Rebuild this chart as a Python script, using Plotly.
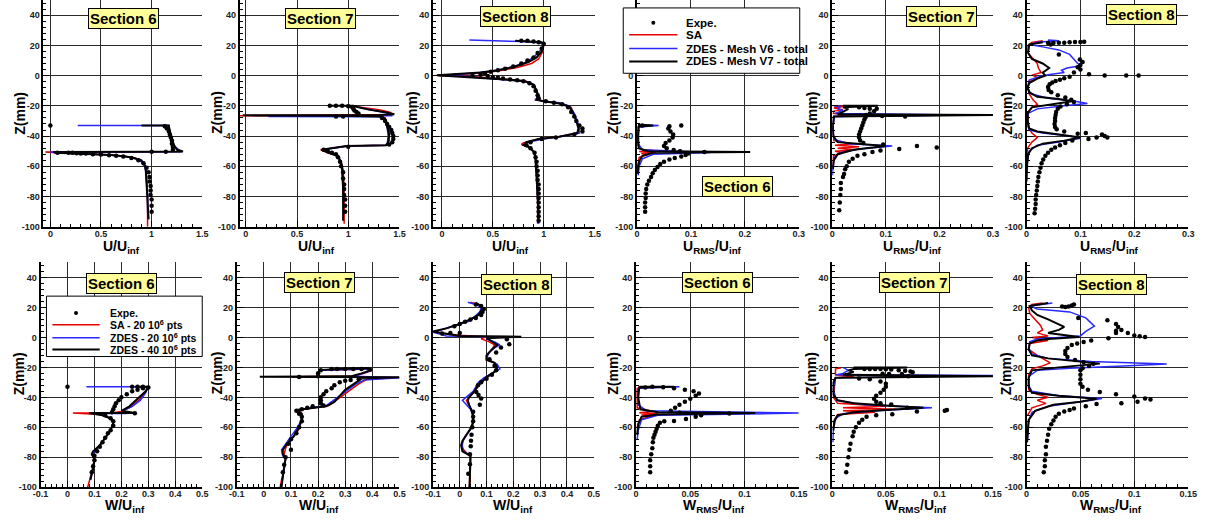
import plotly.graph_objects as go

# ---------------- DATA (x, z) pairs ----------------
# Row 1 : U/Uinf (sections 6,7,8) and URMS/Uinf (sections 6,7,8)
T1_EXP = [(0,-33),(1.13,-33.5),(1.15,-35),(1.17,-37),(1.18,-39),(1.19,-41),(1.2,-43),(1.2,-45),(1.21,-47),(1.21,-49),(1.0,-50.4),(1.14,-50.4),(0.07,-51),(0.18,-51),(0.22,-51),(0.26,-51.3),(0.3,-51.5),(0.35,-51.6),(0.42,-52),(0.5,-52.2),(0.58,-52.6),(0.65,-53),(0.72,-53.5),(0.8,-54.5),(0.87,-56),(0.92,-58),(0.95,-61),(0.97,-64),(0.98,-67),(0.98,-70),(0.99,-73),(0.99,-76),(0.99,-79),(1.0,-82),(1.0,-86),(1.0,-90)]
T1_SA = [(1.12,-33),(1.17,-33.2),(1.18,-37),(1.2,-42),(1.22,-46),(1.26,-49.3),(1.3,-50.2),(1.0,-50.4),(-0.05,-50.5),(0.02,-50.8),(0.2,-51.2),(0.5,-52),(0.7,-53),(0.84,-54.5),(0.91,-57),(0.94,-61),(0.95,-70),(0.96,-80),(0.96,-90),(0.96,-100)]
T1_V6 = [(0.27,-33),(1.17,-33),(1.18,-37),(1.2,-43),(1.23,-47),(1.28,-49.6),(1.28,-50.4),(0.0,-50.6),(0.1,-51),(0.3,-51.5),(0.55,-52.3),(0.75,-53.5),(0.87,-55.5),(0.93,-59),(0.95,-66),(0.96,-78),(0.96,-90),(0.97,-95)]
T1_V7 = [(0.9,-33),(1.17,-33),(1.18,-37),(1.2,-42),(1.22,-46),(1.25,-49),(1.31,-50.2),(1.0,-50.4),(0.03,-50.5),(0.05,-51),(0.3,-51.5),(0.6,-52.5),(0.8,-54),(0.9,-56),(0.94,-60),(0.95,-70),(0.96,-80),(0.97,-90),(0.97,-95)]

T2_EXP = [(0.82,-20),(0.88,-20),(0.94,-20),(1.0,-20.2),(1.04,-21),(1.05,-22),(1.06,-23),(1.08,-24),(1.1,-25),(0.88,-27),(0.95,-27),(1.33,-28),(1.36,-30),(1.38,-32),(1.4,-34),(1.42,-36),(1.43,-38),(1.44,-40),(1.44,-42),(1.43,-44),(1.4,-45.5),(1.0,-47),(0.76,-49),(0.8,-50),(0.84,-51),(0.88,-52),(0.9,-54),(0.92,-57),(0.93,-60),(0.95,-64),(0.95,-68),(0.96,-72),(0.96,-75),(0.96,-79),(0.97,-82),(0.97,-86),(0.97,-90)]
T2_SA = [(1.05,-20.2),(1.15,-21),(1.3,-22.5),(1.4,-24),(1.44,-25.8),(0.5,-26.3),(-0.08,-26.5),(0.07,-26.6),(1.3,-26.8),(1.36,-28),(1.38,-32),(1.4,-38),(1.4,-43),(1.38,-46),(1.0,-46.5),(0.73,-49),(0.8,-51),(0.9,-53),(0.93,-57),(0.95,-62),(0.96,-75),(0.96,-90),(0.96,-98)]
T2_V6 = [(1.1,-21),(1.2,-22.5),(1.3,-23.5),(1.4,-25),(1.43,-26.5),(0.22,-27),(1.3,-27.2),(1.36,-29),(1.38,-34),(1.39,-40),(1.38,-46),(1.0,-46.5),(0.75,-49),(0.82,-51),(0.9,-53),(0.93,-57),(0.94,-62),(0.95,-70),(0.95,-85)]
T2_V7 = [(0.82,-20),(1.05,-20),(1.1,-21),(1.2,-22.5),(1.35,-24),(1.45,-25.5),(1.3,-26),(-0.03,-26.3),(0.9,-26.6),(1.3,-27),(1.36,-28.5),(1.38,-33),(1.4,-39),(1.39,-44),(1.37,-46),(0.98,-46.6),(0.74,-49),(0.81,-51),(0.89,-53),(0.93,-57),(0.94,-62),(0.95,-75),(0.95,-90),(0.95,-96)]

T3_EXP = [(0.78,23),(0.84,23),(0.9,22.5),(0.95,22),(1.0,21),(0.98,18),(0.94,15),(0.9,12),(0.84,10),(0.78,8),(0.7,6),(0.62,4.5),(0.55,3.5),(0.48,2.5),(0.42,1.5),(0.38,0.5),(0.3,0),(0.45,-0.3),(0.5,-1),(0.55,-1.5),(0.6,-2),(0.67,-2.5),(0.74,-3),(0.8,-3.8),(0.86,-5),(0.9,-7),(0.92,-10),(0.94,-13),(0.95,-15),(1.02,-17),(1.1,-18),(1.18,-19),(1.24,-21),(1.27,-24),(1.3,-27),(1.32,-30),(1.35,-33),(1.38,-35),(1.38,-37),(1.3,-39),(1.12,-41),(0.98,-42),(0.87,-44),(0.83,-46),(0.87,-48),(0.91,-51),(0.92,-54),(0.93,-57),(0.93,-60),(0.94,-63),(0.94,-66),(0.94,-69),(0.95,-72),(0.95,-75),(0.95,-78),(0.95,-81),(0.95,-84),(0.95,-87),(0.95,-90),(0.95,-93),(0.95,-96)]
T3_SA = [(0.72,23),(0.95,22),(1.0,20.5),(0.99,16),(0.95,11),(0.88,8),(0.75,5.5),(0.55,3),(0.35,1.5),(0.1,0.5),(-0.04,0),(0.3,-0.6),(0.6,-2),(0.82,-3.5),(0.9,-6),(0.93,-10),(0.94,-14),(0.92,-16),(1.02,-17),(1.18,-18.5),(1.27,-21),(1.3,-26),(1.33,-31),(1.35,-35),(1.33,-38),(1.15,-40.5),(0.95,-42),(0.8,-44.5),(0.78,-45.5),(0.86,-47),(0.91,-51),(0.92,-56),(0.93,-65),(0.94,-80),(0.94,-98)]
T3_V6 = [(0.27,23.5),(0.6,23),(0.8,22.5),(0.98,21.5),(1.0,20),(0.97,17),(0.9,12),(0.8,8),(0.65,5),(0.5,3),(0.3,1.5),(0.1,0.5),(-0.03,0),(0.2,-0.5),(0.5,-2),(0.7,-3),(0.85,-4),(0.9,-6),(0.93,-10),(0.94,-14),(0.92,-16),(1.0,-17),(1.15,-18),(1.25,-20),(1.3,-25),(1.33,-30),(1.35,-35),(1.35,-38),(1.2,-40),(1.0,-42),(0.85,-44),(0.8,-46),(0.85,-47),(0.9,-50),(0.92,-55),(0.93,-65),(0.94,-80),(0.95,-98)]
T3_V7 = [(0.72,23),(0.98,22),(1.0,20.5),(0.98,16),(0.93,12),(0.85,9),(0.72,6),(0.55,3.5),(0.38,2),(0.15,1),(-0.05,0.3),(0.1,-0.5),(0.4,-1.5),(0.62,-2.5),(0.8,-3.5),(0.9,-6),(0.93,-10),(0.95,-14),(0.93,-16),(1.0,-17),(1.15,-18.5),(1.25,-20.5),(1.29,-25),(1.32,-30),(1.34,-35),(1.33,-38),(1.15,-40.5),(0.95,-42),(0.83,-44),(0.8,-46),(0.86,-47.5),(0.91,-51),(0.92,-56),(0.93,-65),(0.94,-80),(0.95,-96)]

T4_EXP = [(0.01,-33),(0.082,-33),(0.06,-33.5),(0.058,-35),(0.062,-37),(0.067,-39),(0.066,-41),(0.06,-43),(0.053,-44.5),(0.05,-46.5),(0.055,-48),(0.068,-49.2),(0.08,-50),(0.125,-50.5),(0.095,-51.5),(0.09,-52.5),(0.082,-53.5),(0.07,-54.5),(0.06,-55.5),(0.05,-57),(0.043,-58.5),(0.038,-60.5),(0.033,-62.5),(0.029,-64.5),(0.026,-67),(0.022,-69.5),(0.019,-72),(0.017,-75),(0.016,-78),(0.016,-81),(0.015,-84),(0.015,-87),(0.015,-90)]
T4_SA = [(0.002,-32.5),(0.025,-33),(0.002,-33.8),(0.001,-46),(0.01,-49),(0.03,-49.6),(0.004,-50.2),(0.035,-50.8),(0.008,-51.5),(0.02,-52.2),(0.004,-54),(0.001,-60)]
T4_V6 = [(0.002,-32.5),(0.04,-33),(0.003,-34),(0.002,-45),(0.01,-49),(0.135,-50.8),(0.03,-52),(0.01,-55),(0.004,-60),(0.002,-66)]
T4_V7 = [(0.002,-32.5),(0.03,-33),(0.003,-33.6),(0.002,-40),(0.003,-48),(0.02,-50),(0.21,-50.5),(0.03,-51),(0.01,-53),(0.005,-56),(0.002,-60),(0.001,-65)]

T5_EXP = [(0.05,-21),(0.06,-21.5),(0.07,-22),(0.083,-22),(0.078,-23.5),(0.07,-25),(0.063,-26),(0.093,-26.8),(0.136,-27),(0.062,-27.5),(0.06,-29),(0.058,-31),(0.056,-33),(0.054,-35),(0.052,-37),(0.05,-39),(0.05,-41),(0.052,-43),(0.058,-44.5),(0.095,-45.5),(0.158,-46.5),(0.195,-47.5),(0.125,-48.5),(0.09,-49.5),(0.075,-50.5),(0.06,-52),(0.047,-53),(0.038,-55),(0.031,-57),(0.027,-60),(0.024,-62),(0.022,-65),(0.02,-67),(0.016,-71),(0.016,-75),(0.015,-79),(0.014,-84),(0.013,-89)]
T5_SA = [(0.003,-20),(0.02,-20.5),(0.003,-21.5),(0.02,-22.5),(0.003,-23.5),(0.002,-25),(0.035,-26),(0.003,-27),(0.001,-35),(0.003,-43),(0.04,-45),(0.005,-46),(0.05,-47),(0.01,-48),(0.045,-49),(0.005,-50),(0.02,-51),(0.002,-53),(0.001,-60)]
T5_V6 = [(0.003,-20),(0.015,-20.5),(0.01,-22),(0.02,-23),(0.005,-25),(0.245,-26),(0.004,-27),(0.001,-35),(0.003,-42),(0.03,-45),(0.112,-46.5),(0.05,-48.5),(0.015,-51),(0.004,-54),(0.001,-60),(0.0005,-66)]
T5_V7 = [(0.02,-20),(0.085,-20),(0.02,-21),(0.03,-22),(0.02,-24),(0.01,-25.5),(0.3,-26),(0.003,-27),(0.001,-33),(0.002,-40),(0.01,-44),(0.06,-45.5),(0.1,-46.5),(0.04,-49),(0.01,-52),(0.003,-56),(0.001,-62)]

T6_EXP = [(0.04,21.5),(0.05,21.6),(0.06,21.7),(0.07,21.8),(0.08,22),(0.09,22.2),(0.1,22.3),(0.107,22.4),(0.045,20.5),(0.06,14),(0.099,10.7),(0.104,9),(0.1,7),(0.095,5.5),(0.1,4),(0.088,2),(0.116,0.9),(0.145,0),(0.185,0),(0.208,0),(0.08,-0.8),(0.07,-1.8),(0.062,-2.7),(0.054,-3.6),(0.048,-4.6),(0.043,-5.8),(0.04,-7.5),(0.041,-9.5),(0.046,-11),(0.058,-13),(0.072,-14.5),(0.083,-16),(0.088,-17.5),(0.075,-19),(0.063,-20.5),(0.058,-22),(0.055,-24),(0.054,-26),(0.053,-28),(0.053,-30),(0.052,-32),(0.053,-34),(0.056,-35.5),(0.07,-37),(0.095,-38.4),(0.11,-38),(0.14,-39),(0.145,-40),(0.15,-41),(0.13,-41),(0.115,-42),(0.085,-43),(0.072,-44.5),(0.062,-46),(0.053,-47.5),(0.046,-49),(0.04,-51),(0.035,-53),(0.031,-55.5),(0.028,-58),(0.026,-61),(0.024,-64),(0.022,-67),(0.021,-70),(0.02,-73),(0.019,-76),(0.018,-79),(0.017,-82),(0.017,-85),(0.016,-88),(0.015,-91)]
T6_SA = [(0.03,23),(0.01,22),(0.003,20),(0.003,15),(0.01,12),(0.02,8),(0.022,5),(0.027,2),(0.01,0.3),(0.022,-1.5),(0.005,-4),(0.003,-8),(0.005,-12),(0.012,-16),(0.02,-19),(0.01,-21),(0.003,-24),(0.003,-34),(0.01,-38),(0.02,-41),(0.01,-44),(0.002,-48),(0.001,-55)]
T6_V6 = [(0.04,23.5),(0.06,23),(0.02,22),(0.005,20.5),(0.03,19),(0.06,17),(0.08,14),(0.087,11),(0.095,8),(0.1,6.5),(0.075,5),(0.065,3.5),(0.07,2),(0.04,0.5),(0.02,-1),(0.005,-3),(0.002,-8),(0.008,-12),(0.04,-15),(0.09,-17),(0.113,-18.5),(0.07,-20),(0.02,-22),(0.003,-25),(0.002,-30),(0.005,-36),(0.03,-38),(0.08,-40),(0.1,-41.5),(0.06,-44),(0.02,-46),(0.005,-50),(0.001,-58)]
T6_V7 = [(0.03,22),(0.005,20.5),(0.003,15),(0.01,11),(0.03,8),(0.042,5),(0.03,2),(0.035,0),(0.02,-2),(0.005,-5),(0.002,-8),(0.005,-11),(0.02,-14),(0.06,-15.5),(0.085,-17),(0.05,-19),(0.01,-21),(0.002,-25),(0.002,-30),(0.005,-35),(0.02,-37),(0.06,-39),(0.1,-41),(0.07,-43),(0.03,-45),(0.01,-48),(0.003,-52),(0.001,-60),(0.0,-70)]

# Row 2 : W/Uinf (sections 6,7,8) and WRMS/Uinf (sections 6,7,8)
B1_EXP = [(0.0,-33),(0.24,-33),(0.26,-33),(0.28,-33),(0.3,-33.5),(0.28,-34),(0.26,-35),(0.24,-36),(0.22,-38),(0.2,-40),(0.19,-42),(0.18,-44),(0.175,-46),(0.17,-48),(0.165,-50),(0.25,-50.6),(0.14,-52),(0.16,-54),(0.17,-56),(0.17,-59),(0.16,-62),(0.15,-64),(0.14,-67),(0.13,-70),(0.12,-73),(0.11,-76),(0.1,-79),(0.1,-82),(0.095,-86),(0.09,-90)]
B1_SA = [(0.24,-33),(0.3,-33),(0.29,-36),(0.27,-41),(0.24,-46),(0.2,-49.5),(0.16,-50.5),(0.02,-50.5),(0.12,-51.5),(0.16,-54),(0.17,-57),(0.16,-62),(0.14,-67),(0.12,-72),(0.1,-76),(0.09,-78),(0.1,-81),(0.09,-90),(0.075,-100)]
B1_V6 = [(0.07,-33),(0.3,-33),(0.29,-37),(0.27,-42),(0.24,-46),(0.2,-49.5),(0.22,-50.7),(0.1,-50.7),(0.13,-52),(0.16,-54),(0.17,-57),(0.16,-62),(0.14,-67),(0.12,-72),(0.1,-76),(0.095,-78),(0.1,-81),(0.09,-90),(0.085,-95)]
B1_V7 = [(0.25,-33),(0.3,-33),(0.29,-36),(0.26,-41),(0.23,-46),(0.2,-49),(0.25,-50.5),(0.08,-50.5),(0.13,-52),(0.16,-54),(0.17,-57),(0.16,-62),(0.14,-67),(0.12,-72),(0.095,-76),(0.09,-78),(0.1,-81),(0.095,-88),(0.085,-95)]

B2_EXP = [(0.13,-26.5),(0.2,-26),(0.2,-24),(0.21,-22),(0.25,-21),(0.27,-21),(0.3,-21),(0.33,-21),(0.36,-21),(0.39,-21.5),(0.35,-28),(0.32,-28.5),(0.3,-29),(0.28,-30),(0.26,-32),(0.25,-34),(0.23,-36),(0.22,-38),(0.21,-40),(0.21,-42),(0.21,-44),(0.22,-45.5),(0.18,-46),(0.16,-47),(0.14,-48),(0.12,-49),(0.13,-51),(0.14,-53),(0.14,-56),(0.13,-60),(0.12,-64),(0.1,-68),(0.09,-71),(0.1,-75),(0.08,-80),(0.075,-85),(0.07,-90)]
B2_SA = [(0.22,-22),(0.3,-21.5),(0.39,-21),(0.4,-22),(0.37,-24),(0.33,-26),(0.1,-26.3),(0.5,-26.8),(0.38,-28),(0.35,-31),(0.32,-35),(0.29,-39),(0.27,-42),(0.24,-45.5),(0.13,-48.5),(0.14,-51),(0.14,-55),(0.13,-61),(0.11,-66),(0.09,-70),(0.08,-74),(0.075,-78),(0.08,-81),(0.075,-88),(0.065,-95),(0.06,-100)]
B2_V6 = [(0.22,-22),(0.3,-21.5),(0.38,-21),(0.4,-22),(0.36,-24.5),(0.33,-26),(0.5,-27),(0.37,-28.5),(0.34,-31),(0.31,-35),(0.28,-39),(0.26,-42),(0.23,-45.5),(0.12,-48.5),(0.14,-51),(0.14,-55),(0.12,-61),(0.1,-66),(0.08,-71),(0.065,-75),(0.07,-79),(0.08,-81),(0.075,-88),(0.065,-98)]
B2_V7 = [(0.2,-22),(0.27,-21),(0.38,-20.5),(0.4,-21.5),(0.36,-24),(0.32,-26),(-0.015,-26.3),(0.5,-26.6),(0.36,-27.5),(0.33,-31),(0.3,-35),(0.28,-39),(0.26,-43),(0.23,-46),(0.12,-48.5),(0.14,-51),(0.14,-54),(0.13,-60),(0.11,-66),(0.085,-71),(0.07,-75),(0.07,-78),(0.08,-81),(0.075,-86),(0.07,-92),(0.065,-100)]

B3_EXP = [(0.06,22),(0.08,21),(0.09,19),(0.085,17),(0.08,15),(0.06,13),(0.04,12),(0.02,10.5),(0.0,9),(-0.02,7.5),(-0.035,3),(-0.066,2.6),(0.0,3),(0.176,-1.3),(0.185,-4.6),(0.154,-6.8),(0.136,-10),(0.111,-14.5),(0.13,-18.9),(0.136,-22),(0.12,-25),(0.1,-27.6),(0.08,-30),(0.068,-32),(0.062,-36.4),(0.07,-38.5),(0.08,-40.8),(0.075,-45),(0.05,-49.6),(0.05,-53),(0.05,-56),(0.047,-60),(0.044,-65),(0.042,-69),(0.041,-72.6),(0.038,-78),(0.038,-84.6),(0.032,-91)]
B3_SA = [(0.04,23.5),(0.07,22),(0.085,20),(0.08,17),(0.06,13.5),(0.03,11),(0.0,9),(-0.04,6.5),(-0.08,4.5),(-0.1,3.5),(0.0,1.5),(0.1,0.5),(0.08,-1),(0.11,-3),(0.13,-5),(0.12,-8),(0.1,-12),(0.1,-15),(0.13,-17),(0.14,-20),(0.13,-23),(0.1,-27),(0.075,-31),(0.06,-35),(0.04,-39),(0.025,-42),(0.03,-44),(0.04,-47),(0.05,-52),(0.05,-56),(0.04,-61),(0.02,-66),(0.01,-70),(0.01,-74),(0.025,-77),(0.04,-79),(0.04,-85),(0.038,-100)]
B3_V6 = [(0.03,23.5),(0.06,22),(0.08,20),(0.075,17),(0.05,13),(0.04,11),(0.02,10),(-0.02,8),(-0.08,5),(-0.1,3.5),(-0.05,1),(0.12,0.5),(0.1,-1),(0.13,-3),(0.15,-5),(0.13,-7),(0.11,-10),(0.1,-14),(0.12,-16),(0.14,-18),(0.15,-21),(0.12,-24),(0.09,-27),(0.07,-30),(0.06,-33),(0.05,-36),(0.03,-39),(0.01,-42),(0.02,-44),(0.04,-48),(0.05,-52),(0.05,-56),(0.045,-60),(0.03,-64),(0.015,-68),(0.008,-72),(0.015,-76),(0.04,-79),(0.04,-85)]
B3_V7 = [(0.06,23),(0.08,21),(0.085,19),(0.07,15),(0.04,12),(0.0,9),(-0.05,6),(-0.1,4),(0.0,1),(0.23,0.5),(0.1,-0.5),(0.12,-2.5),(0.14,-5),(0.12,-8),(0.1,-12),(0.1,-15),(0.13,-17),(0.14,-20),(0.13,-23),(0.1,-26.5),(0.08,-30),(0.065,-33),(0.05,-37),(0.035,-40),(0.03,-42),(0.035,-45),(0.045,-49),(0.05,-53),(0.05,-57),(0.04,-61),(0.025,-65),(0.01,-69),(0.005,-72),(0.01,-76),(0.04,-79),(0.04,-85),(0.038,-92),(0.036,-100)]

B4_EXP = [(0.0085,-33.5),(0.015,-33),(0.025,-33.2),(0.035,-34),(0.045,-35),(0.053,-36),(0.058,-37.5),(0.055,-39),(0.05,-41),(0.045,-43),(0.04,-45),(0.036,-47),(0.032,-49),(0.04,-50.3),(0.086,-50.7),(0.06,-52),(0.055,-53),(0.046,-54.4),(0.035,-55.7),(0.026,-56),(0.022,-57),(0.02,-59),(0.019,-61),(0.018,-63),(0.017,-65),(0.016,-67),(0.0155,-70),(0.015,-74),(0.014,-78),(0.013,-82),(0.013,-86),(0.013,-90)]
B4_SA = [(0.002,-33),(0.02,-33),(0.001,-34),(0.001,-47),(0.015,-49.5),(0.003,-50.3),(0.02,-51),(0.005,-51.8),(0.015,-52.5),(0.003,-55),(0.001,-60)]
B4_V6 = [(0.003,-33),(0.04,-33),(0.002,-34),(0.002,-45),(0.01,-49),(0.15,-50.5),(0.02,-52),(0.005,-55),(0.002,-62),(0.001,-68)]
B4_V7 = [(0.003,-33),(0.035,-33),(0.003,-33.5),(0.002,-40),(0.004,-48),(0.02,-50),(0.11,-50.5),(0.02,-51.5),(0.005,-53),(0.002,-58),(0.001,-65)]

B5_EXP = [(0.03,-21),(0.035,-21),(0.04,-21),(0.045,-21),(0.05,-21.2),(0.055,-21.5),(0.062,-22),(0.068,-22.3),(0.073,-22.7),(0.075,-23.2),(0.047,-24.3),(0.053,-24.5),(0.065,-24.5),(0.071,-26),(0.025,-27.5),(0.035,-28),(0.045,-29.5),(0.05,-31),(0.05,-33),(0.048,-35),(0.045,-37),(0.041,-39),(0.039,-41),(0.041,-43),(0.045,-44),(0.055,-44.7),(0.07,-47),(0.079,-49.5),(0.107,-48.5),(0.105,-49),(0.056,-51.3),(0.041,-52),(0.032,-53),(0.028,-55),(0.025,-57),(0.022,-60),(0.02,-63),(0.019,-66),(0.017,-71),(0.016,-75),(0.015,-80),(0.014,-85),(0.013,-90)]
B5_SA = [(0.003,-20),(0.008,-20.5),(0.003,-21),(0.003,-25),(0.02,-26),(0.003,-27),(0.001,-40),(0.005,-44),(0.05,-46),(0.01,-47),(0.06,-48),(0.01,-49),(0.04,-50),(0.005,-51.5),(0.002,-55),(0.001,-60)]
B5_V6 = [(0.01,-20),(0.015,-22),(0.01,-24),(0.003,-25),(0.15,-25.5),(0.003,-27),(0.001,-35),(0.004,-42),(0.03,-45),(0.093,-47),(0.04,-49),(0.01,-51),(0.003,-54),(0.001,-62),(0.0005,-70)]
B5_V7 = [(0.02,-20),(0.07,-20),(0.02,-21),(0.015,-22),(0.02,-23),(0.01,-25),(0.15,-26),(0.003,-27),(0.001,-30),(0.001,-38),(0.005,-42),(0.02,-44),(0.06,-46),(0.085,-47),(0.05,-48.5),(0.02,-50),(0.005,-52),(0.002,-56),(0.001,-62)]

B6_EXP = [(0.033,20.6),(0.036,20.3),(0.039,20.6),(0.042,21.3),(0.044,22),(0.048,13),(0.075,11.4),(0.083,9),(0.085,7),(0.083,4.5),(0.088,5),(0.094,3),(0.1,1.2),(0.105,0.8),(0.11,0.3),(0.076,-0.5),(0.083,3),(0.06,-2),(0.053,-3),(0.047,-4),(0.042,-5),(0.038,-7),(0.036,-9),(0.036,-11),(0.038,-13),(0.045,-15),(0.053,-16.5),(0.062,-17.5),(0.058,-19),(0.052,-20.5),(0.05,-22),(0.05,-25),(0.05,-28),(0.05,-31),(0.052,-33),(0.057,-35),(0.068,-36.4),(0.083,-38),(0.1,-39.5),(0.11,-40.8),(0.115,-41.5),(0.103,-43),(0.088,-44),(0.065,-44.5),(0.055,-46),(0.044,-47.4),(0.04,-48.5),(0.035,-49.5),(0.03,-51),(0.027,-53),(0.025,-55.5),(0.023,-58),(0.021,-61),(0.02,-65),(0.019,-69),(0.018,-73),(0.018,-78),(0.017,-82),(0.017,-86),(0.016,-90)]
B6_SA = [(0.015,23),(0.005,22),(0.002,20),(0.003,16),(0.008,12),(0.013,8),(0.015,5),(0.01,3),(0.02,1),(0.005,0),(0.015,-1),(0.02,-2),(0.003,-4),(0.002,-8),(0.01,-12),(0.018,-15),(0.022,-17),(0.015,-19),(0.005,-21),(0.002,-25),(0.002,-35),(0.01,-38),(0.02,-40),(0.01,-42),(0.018,-44),(0.005,-47),(0.001,-52)]
B6_V6 = [(0.024,23),(0.015,22),(0.003,21),(0.01,19),(0.04,17),(0.055,13),(0.06,9.6),(0.063,7.5),(0.055,4),(0.05,1),(0.03,0),(0.01,-1),(0.003,-3),(0.002,-7),(0.005,-11),(0.02,-14),(0.06,-16),(0.1,-17),(0.13,-17.8),(0.09,-19),(0.04,-20.5),(0.01,-22),(0.002,-26),(0.002,-32),(0.005,-36),(0.03,-39),(0.07,-40.8),(0.06,-42),(0.04,-44),(0.02,-46),(0.005,-50),(0.002,-56),(0.001,-68)]
B6_V7 = [(0.02,23),(0.01,22),(0.003,21),(0.005,18),(0.01,15),(0.02,12),(0.03,9),(0.035,7),(0.03,5),(0.02,3),(0.049,0.3),(0.02,-1),(0.01,-2),(0.003,-4),(0.002,-8),(0.005,-12),(0.02,-14),(0.05,-16),(0.068,-17.5),(0.03,-20),(0.005,-22),(0.002,-27),(0.002,-33),(0.005,-37),(0.03,-39),(0.065,-41),(0.05,-43),(0.025,-45),(0.008,-49),(0.002,-55),(0.0005,-70)]

SECTIONS = ["Section 6", "Section 7", "Section 8", "Section 6", "Section 7", "Section 8"]
Y_TICKS = [-100, -80, -60, -40, -20, 0, 20, 40]
X_TICKS_U = [0, 0.5, 1, 1.5]
X_TICKS_URMS = [0, 0.1, 0.2, 0.3]
X_TICKS_W = [-0.1, 0, 0.1, 0.2, 0.3, 0.4, 0.5]
X_TICKS_WRMS = [0, 0.05, 0.1, 0.15]
TOP_NAMES = ["Expe.", "SA", "ZDES - Mesh V6 - total", "ZDES - Mesh V7 - total"]
BOT_NAMES = ["Expe.", "SA - 20 10<sup>6</sup> pts", "ZDES - 20 10<sup>6</sup> pts", "ZDES - 40 10<sup>6</sup> pts"]

# ---------------- LAYOUT / STYLE ----------------
W, H = 1212, 521
FONT = "Liberation Sans, Arial, sans-serif"

panels = [
    # data, xrange, ticks, minor dtick, x px domain, row, xtitle, xtitle centre px, section label px position
    ((T1_EXP, T1_SA, T1_V6, T1_V7), [-0.068, 1.5], X_TICKS_U, 0.1, (36, 197), 0, "U/U<sub>inf</sub>", 115, (117, 19)),
    ((T2_EXP, T2_SA, T2_V6, T2_V7), [-0.06, 1.5], X_TICKS_U, 0.1, (235, 397), 0, "U/U<sub>inf</sub>", 313, (317, 19)),
    ((T3_EXP, T3_SA, T3_V6, T3_V7), [-0.088, 1.5], X_TICKS_U, 0.1, (431, 595), 0, "U/U<sub>inf</sub>", 510, (515, 17)),
    ((T4_EXP, T4_SA, T4_V6, T4_V7), [0, 0.3], X_TICKS_URMS, 0.02, (638, 802), 0, "U<sub>RMS</sub>/U<sub>inf</sub>", 715, (740, 188)),
    ((T5_EXP, T5_SA, T5_V6, T5_V7), [0, 0.3], X_TICKS_URMS, 0.02, (836, 999), 0, "U<sub>RMS</sub>/U<sub>inf</sub>", 917, (947, 17)),
    ((T6_EXP, T6_SA, T6_V6, T6_V7), [0, 0.3], X_TICKS_URMS, 0.02, (1033, 1197), 0, "U<sub>RMS</sub>/U<sub>inf</sub>", 1117, (1150, 15)),
    ((B1_EXP, B1_SA, B1_V6, B1_V7), [-0.1, 0.5], X_TICKS_W, 0.02, (33, 197), 1, "W/U<sub>inf</sub>", 119, (115, 286)),
    ((B2_EXP, B2_SA, B2_V6, B2_V7), [-0.1, 0.5], X_TICKS_W, 0.02, (232, 397), 1, "W/U<sub>inf</sub>", 315, (316, 285)),
    ((B3_EXP, B3_SA, B3_V6, B3_V7), [-0.1, 0.5], X_TICKS_W, 0.02, (431, 594), 1, "W/U<sub>inf</sub>", 512, (516, 287)),
    ((B4_EXP, B4_SA, B4_V6, B4_V7), [0, 0.15], X_TICKS_WRMS, 0.01, (637, 802), 1, "W<sub>RMS</sub>/U<sub>inf</sub>", 716, (720, 285)),
    ((B5_EXP, B5_SA, B5_V6, B5_V7), [0, 0.15], X_TICKS_WRMS, 0.01, (836, 999), 1, "W<sub>RMS</sub>/U<sub>inf</sub>", 921, (919, 285)),
    ((B6_EXP, B6_SA, B6_V6, B6_V7), [0, 0.15], X_TICKS_WRMS, 0.01, (1033, 1197), 1, "W<sub>RMS</sub>/U<sub>inf</sub>", 1119, (1119, 287)),
]
ROW_PX = [(0, 229), (265, 492)]
XTITLE_TOP = [238, 500]
ZTITLE_Y = [114, 377]
ZTITLE_X = [12, 212, 410, 614, 815, 1013]

COLORS = ["black", "#e60000", "#2a2aff", "black"]
WIDTHS = [0, 1.5, 1.5, 2]

# hand-drawn legend boxes (px): box, symbol x-range, text x, row centres, font size
LEGEND_BOXES = [
    dict(names=TOP_NAMES, box=(624, 8, 803, 74), sym=(630, 679), tx=686, rows=(23, 35, 49, 62), fs=11.5),
    dict(names=BOT_NAMES, box=(39, 299, 197, 360), sym=(45, 93), tx=101, rows=(316, 328, 341, 353), fs=10.5),
]


def fmt(v):
    return "%g" % v


def px_x(p):
    return p / W


def px_y(p):
    return 1 - p / H


fig = go.Figure()
layout = dict(width=W, height=H, margin=dict(l=0, r=0, t=0, b=0),
              paper_bgcolor="white", plot_bgcolor="white", showlegend=False,
              font=dict(family=FONT, color="black"))
annotations = []
shapes = []

for i, (data, xr, xt, mdt, (xl, xrr), row, xtitle, xtc, (sx, sy)) in enumerate(panels):
    n = i + 1
    xa = "x" if n == 1 else "x%d" % n
    ya = "y" if n == 1 else "y%d" % n
    names = TOP_NAMES if row == 0 else BOT_NAMES
    for k in (1, 2, 3):
        pts = data[k]
        fig.add_trace(go.Scatter(
            x=[p[0] for p in pts], y=[p[1] for p in pts], mode="lines",
            line=dict(color=COLORS[k], width=WIDTHS[k]), name=names[k],
            xaxis=xa, yaxis=ya, hoverinfo="skip"))
    pts = data[0]
    fig.add_trace(go.Scatter(
        x=[p[0] for p in pts], y=[p[1] for p in pts], mode="markers",
        marker=dict(color="black", size=4.5, symbol="circle"), name=names[0],
        xaxis=xa, yaxis=ya, hoverinfo="skip"))

    y0, y1 = ROW_PX[row]
    axis_common = dict(showline=True, linecolor="black", linewidth=2, mirror=False,
                       showgrid=True, gridcolor="#2b2b2b", gridwidth=1, zeroline=False,
                       ticks="inside", ticklen=6, tickwidth=1, tickcolor="black",
                       tickfont=dict(size=9, family=FONT, color="#222", weight="bold"))
    layout["xaxis" if n == 1 else "xaxis%d" % n] = dict(
        axis_common, domain=[px_x(xl), px_x(xrr)], range=xr, anchor=ya,
        tickvals=xt, ticktext=[fmt(v) for v in xt], ticklabelstandoff=-3,
        minor=dict(ticks="inside", ticklen=3, dtick=mdt, tick0=0, showgrid=False, tickcolor="black"))
    layout["yaxis" if n == 1 else "yaxis%d" % n] = dict(
        axis_common, domain=[px_y(y1), px_y(y0)], range=[-100, 50], anchor=xa,
        tickvals=Y_TICKS, ticktext=[fmt(v) for v in Y_TICKS],
        minor=dict(ticks="inside", ticklen=3, dtick=4, tick0=0, showgrid=False, tickcolor="black"))

    annotations.append(dict(text="<b>%s</b>" % SECTIONS[i % 6], x=px_x(sx), y=px_y(sy),
                            xref="paper", yref="paper", showarrow=False,
                            xanchor="center", yanchor="middle",
                            font=dict(size=15, family=FONT, color="black"),
                            bgcolor="#ffff99", bordercolor="black", borderwidth=1, borderpad=1))
    annotations.append(dict(text="<b>%s</b>" % xtitle, x=px_x(xtc), y=px_y(XTITLE_TOP[row]),
                            xref="paper", yref="paper", showarrow=False,
                            xanchor="center", yanchor="top",
                            font=dict(size=14, family=FONT, color="black")))
    annotations.append(dict(text="<b>Z(mm)</b>", x=px_x(ZTITLE_X[i % 6]), y=px_y(ZTITLE_Y[row]),
                            xref="paper", yref="paper", showarrow=False, textangle=-90,
                            xanchor="center", yanchor="middle",
                            font=dict(size=14, family=FONT, color="black")))

# legends drawn as boxes with sample lines / marker and real text
for lg in LEGEND_BOXES:
    bx0, by0, bx1, by1 = lg["box"]
    shapes.append(dict(type="rect", xref="paper", yref="paper", layer="above",
                       x0=px_x(bx0), x1=px_x(bx1), y0=px_y(by1), y1=px_y(by0),
                       fillcolor="white", line=dict(color="black", width=1)))
    s0, s1 = lg["sym"]
    for k, (nm, ry) in enumerate(zip(lg["names"], lg["rows"])):
        if k == 0:
            cx = (s0 + s1) / 2
            shapes.append(dict(type="circle", xref="paper", yref="paper", layer="above",
                               x0=px_x(cx - 2), x1=px_x(cx + 2), y0=px_y(ry + 2), y1=px_y(ry - 2),
                               fillcolor="black", line=dict(color="black", width=0)))
        else:
            shapes.append(dict(type="line", xref="paper", yref="paper", layer="above",
                               x0=px_x(s0), x1=px_x(s1), y0=px_y(ry), y1=px_y(ry),
                               line=dict(color=COLORS[k], width=WIDTHS[k])))
        annotations.append(dict(text="<b>%s</b>" % nm, x=px_x(lg["tx"]), y=px_y(ry),
                                xref="paper", yref="paper", showarrow=False,
                                xanchor="left", yanchor="middle",
                                font=dict(size=lg["fs"], family=FONT, color="black")))

layout["annotations"] = annotations
layout["shapes"] = shapes

fig.update_layout(**layout)
fig.write_html("out.html")
